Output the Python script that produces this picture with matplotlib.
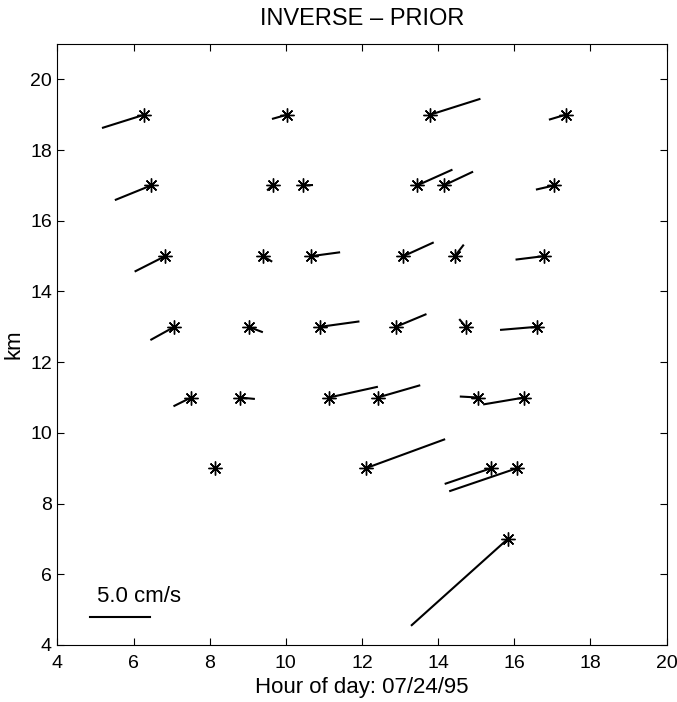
"""Stick plot of inverse-minus-prior current differences versus hour and depth."""
import matplotlib

matplotlib.use("Agg")
import matplotlib.pyplot as plt
import numpy as np

plt.rcParams["font.family"] = ["Liberation Sans", "DejaVu Sans"]

# station positions: hour of day, km
hours = [6.28, 10.03, 13.79, 17.35,
         6.46, 9.65, 10.44, 13.45, 14.15, 17.05,
         6.83, 9.40, 10.67, 13.09, 14.44, 16.78,
         7.07, 9.02, 10.90, 12.89, 14.73, 16.59,
         7.51, 8.79, 11.13, 12.41, 15.06, 16.26,
         8.13, 12.10, 15.39, 16.07,
         15.83]
km = [19, 19, 19, 19,
      17, 17, 17, 17, 17, 17,
      15, 15, 15, 15, 15, 15,
      13, 13, 13, 13, 13, 13,
      11, 11, 11, 11, 11, 11,
      9, 9, 9, 9,
      7]
# velocity differences (cm/s)
u = [-3.44, -1.17, 4.11, -1.31,
     -2.94, -0.39, 0.78, 2.86, 2.36, -1.44,
     -2.47, 0.69, 2.31, 2.44, 0.69, -2.28,
     -1.92, 1.11, 3.19, 2.47, -0.50, -2.97,
     -1.39, 1.17, 4.00, 3.47, -1.47, -3.33,
     0.0, 6.53, -3.78, -5.56,
     -8.00]
v = [-1.08, -0.33, 1.30, -0.39,
     -1.19, -0.36, 0.03, 1.28, 1.11, -0.33,
     -1.25, -0.42, 0.31, 1.11, 0.89, -0.28,
     -1.06, -0.42, 0.44, 1.03, 0.58, -0.25,
     -0.69, -0.11, 0.88, 1.00, 0.08, -0.56,
     0.0, 2.39, -1.28, -1.89,
     -7.17]

ref_speed = 5.0  # cm/s
sx = 0.3153      # hours per cm/s
sy = 0.340       # km per cm/s

fig = plt.figure(figsize=(6.77, 7.02), dpi=100)
ax = fig.add_axes([0.0849, 0.0812, 0.8996, 0.8561])

for t, z, du, dv in zip(hours, km, u, v):
    ax.plot([t, t + du * sx], [z, z + dv * sy], color="black", lw=1.5)
ax.plot(hours, km, linestyle="none", marker=(8, 2, 0), markersize=10,
        color="black", markeredgewidth=1.0)

# reference arrow
ax.plot([4.86, 4.86 + ref_speed * sx], [4.80, 4.80], color="black", lw=1.5)
ax.text(5.04, 5.23, f"{ref_speed:.1f} cm/s", fontsize=16, ha="left", va="baseline")

ax.set_xlim(4, 20)
ax.set_ylim(4, 21)
ax.set_xticks(np.arange(4, 21, 2))
ax.set_yticks(np.arange(4, 21, 2))
ax.tick_params(direction="in", top=True, right=True, labelsize=14, length=5)
ax.tick_params(axis="x", pad=7)
ax.tick_params(axis="y", pad=4)
ax.set_xlabel("Hour of day: 07/24/95", fontsize=16, labelpad=4)
ax.set_ylabel("km", fontsize=16, labelpad=4)
ax.set_title("INVERSE \u2013 PRIOR", fontsize=17, pad=14)

fig.savefig("out.png", dpi=100)
